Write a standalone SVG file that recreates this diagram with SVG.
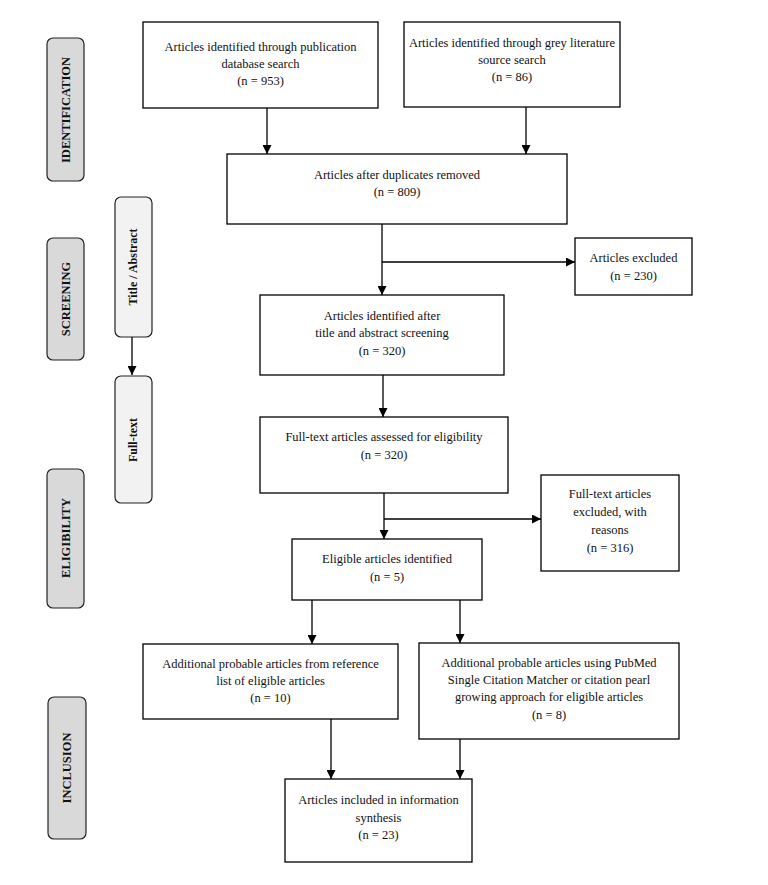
<svg xmlns="http://www.w3.org/2000/svg" width="768" height="885" viewBox="0 0 768 885">
<defs>
<marker id="ah" viewBox="0 0 10 10" refX="10" refY="5" markerWidth="9" markerHeight="9" markerUnits="userSpaceOnUse" orient="auto">
<path d="M0,0 L10,5 L0,10 z" fill="#000"/>
</marker>
</defs>
<style>
.box{fill:#fff;stroke:#000;stroke-width:1.3}
.stage{fill:#d9d9d9;stroke:#222;stroke-width:1.2}
.sub{fill:#f2f2f2;stroke:#222;stroke-width:1.2}
.t{font-family:"Liberation Serif","Times New Roman",serif;font-size:12.5px;fill:#111;text-anchor:middle}
.lb{font-family:"Liberation Serif","Times New Roman",serif;font-size:12.5px;font-weight:bold;fill:#111;text-anchor:middle}
.sl{font-size:12px}
.ln{fill:none;stroke:#000;stroke-width:1.3}
</style>
<rect width="768" height="885" fill="#fff"/>

<g id="stage-identification"><rect class="stage" x="47" y="38" width="37" height="143" rx="6"/><text class="lb" transform="translate(70,110) rotate(-90)">IDENTIFICATION</text></g>
<g id="stage-screening"><rect class="stage" x="47" y="238" width="37" height="122" rx="6"/><text class="lb" transform="translate(70,299) rotate(-90)">SCREENING</text></g>
<g id="stage-eligibility"><rect class="stage" x="47" y="469" width="37" height="139" rx="6"/><text class="lb" transform="translate(70,538) rotate(-90)">ELIGIBILITY</text></g>
<g id="stage-inclusion"><rect class="stage" x="48" y="697" width="38" height="142" rx="6"/><text class="lb" transform="translate(71,768) rotate(-90)">INCLUSION</text></g>
<g id="sub-title-abstract"><rect class="sub" x="115" y="197" width="37" height="140" rx="6"/><text class="lb sl" transform="translate(137,267) rotate(-90)">Title / Abstract</text></g>
<g id="sub-full-text"><rect class="sub" x="115" y="376" width="37" height="127" rx="6"/><text class="lb sl" transform="translate(137,440) rotate(-90)">Full-text</text></g>

<g id="n1"><rect class="box" x="143" y="22" width="235" height="86"/>
<text class="t" x="260.5" y="51">Articles identified through publication</text>
<text class="t" x="260.5" y="68">database search</text>
<text class="t" x="260.5" y="85">(n = 953)</text></g>
<g id="n2"><rect class="box" x="404" y="22" width="216" height="85"/>
<text class="t" x="512" y="47">Articles identified through grey literature</text>
<text class="t" x="512" y="64">source search</text>
<text class="t" x="512" y="81">(n = 86)</text></g>
<g id="n3"><rect class="box" x="227" y="154" width="340" height="70"/>
<text class="t" x="397" y="179">Articles after duplicates removed</text>
<text class="t" x="397" y="196">(n = 809)</text></g>
<g id="n4"><rect class="box" x="575" y="238" width="117" height="57"/>
<text class="t" x="633.5" y="262">Articles excluded</text>
<text class="t" x="633.5" y="280">(n = 230)</text></g>
<g id="n5"><rect class="box" x="260" y="295" width="244" height="80"/>
<text class="t" x="382" y="320">Articles identified after</text>
<text class="t" x="382" y="337">title and abstract screening</text>
<text class="t" x="382" y="355">(n = 320)</text></g>
<g id="n6"><rect class="box" x="260" y="417" width="248" height="76"/>
<text class="t" x="384" y="441">Full-text articles assessed for eligibility</text>
<text class="t" x="384" y="459">(n = 320)</text></g>
<g id="n7"><rect class="box" x="541" y="475" width="138" height="96"/>
<text class="t" x="610" y="498">Full-text articles</text>
<text class="t" x="610" y="516">excluded, with</text>
<text class="t" x="610" y="534">reasons</text>
<text class="t" x="610" y="552">(n = 316)</text></g>
<g id="n8"><rect class="box" x="292" y="539" width="190" height="61"/>
<text class="t" x="387" y="563">Eligible articles identified</text>
<text class="t" x="387" y="581">(n = 5)</text></g>
<g id="n9"><rect class="box" x="143" y="644" width="255" height="75"/>
<text class="t" x="270.5" y="668">Additional probable articles from reference</text>
<text class="t" x="270.5" y="685">list of eligible articles</text>
<text class="t" x="270.5" y="702">(n = 10)</text></g>
<g id="n10"><rect class="box" x="419" y="643" width="260" height="96"/>
<text class="t" x="549" y="667">Additional probable articles using PubMed</text>
<text class="t" x="549" y="684">Single Citation Matcher or citation pearl</text>
<text class="t" x="549" y="701">growing approach for eligible articles</text>
<text class="t" x="549" y="719">(n = 8)</text></g>
<g id="n11"><rect class="box" x="285" y="779" width="187" height="83"/>
<text class="t" x="378.5" y="804">Articles included in information</text>
<text class="t" x="378.5" y="822">synthesis</text>
<text class="t" x="378.5" y="839">(n = 23)</text></g>

<g id="connectors">
<line class="ln" x1="132" y1="337" x2="132" y2="375" marker-end="url(#ah)"/>
<line class="ln" x1="267" y1="108" x2="267" y2="154" marker-end="url(#ah)"/>
<line class="ln" x1="526" y1="107" x2="526" y2="154" marker-end="url(#ah)"/>
<line class="ln" x1="382" y1="224" x2="382" y2="295" marker-end="url(#ah)"/>
<line class="ln" x1="382" y1="262" x2="575" y2="262" marker-end="url(#ah)"/>
<line class="ln" x1="383" y1="375" x2="383" y2="417" marker-end="url(#ah)"/>
<line class="ln" x1="384" y1="493" x2="384" y2="539" marker-end="url(#ah)"/>
<line class="ln" x1="384" y1="519" x2="541" y2="519" marker-end="url(#ah)"/>
<line class="ln" x1="312" y1="600" x2="312" y2="644" marker-end="url(#ah)"/>
<line class="ln" x1="460" y1="600" x2="460" y2="643" marker-end="url(#ah)"/>
<line class="ln" x1="331" y1="719" x2="331" y2="779" marker-end="url(#ah)"/>
<line class="ln" x1="460" y1="739" x2="460" y2="779" marker-end="url(#ah)"/>
</g>
</svg>
